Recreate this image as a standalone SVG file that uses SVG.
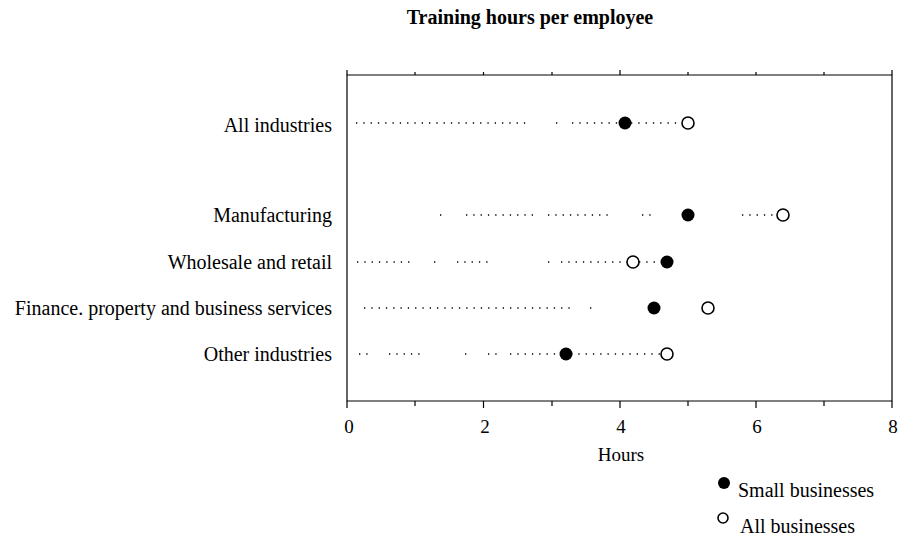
<svg xmlns="http://www.w3.org/2000/svg" width="901" height="544" viewBox="0 0 901 544">
<style>
.t{font-family:"Liberation Serif","Times New Roman",serif;fill:#000}
.lab{font-size:20px;text-anchor:end}
.num{font-size:19px;text-anchor:middle}
.dot{stroke:#000;stroke-width:1.3;stroke-dasharray:1.3 6;fill:none}
.ax{stroke:#000;stroke-width:1.2;fill:none}
.f{fill:#000}
.o{fill:#fff;stroke:#000;stroke-width:1.6}
</style>
<rect width="901" height="544" fill="#fff"/>
<text class="t" x="530" y="24" font-size="20" font-weight="bold" text-anchor="middle">Training hours per employee</text>
<g id="axes">
<path class="ax" d="M347 75H892V401H347Z"/>
<path class="ax" d="M347 70V75M415 72V75M483.5 72V75M552 72V75M620 70V75M688 72V75M756 72V75M824 72V75M892 70V75"/>
<path class="ax" d="M347 401V408M415 401V406M483.5 401V408M552 401V406M620 401V408M688 401V406M756 401V408M824 401V406M892 401V408"/>
<text class="t num" x="349" y="433">0</text>
<text class="t num" x="485" y="433">2</text>
<text class="t num" x="621" y="433">4</text>
<text class="t num" x="757" y="433">6</text>
<text class="t num" x="893" y="433">8</text>
<text class="t num" x="621" y="461" font-size="19">Hours</text>
</g>
<g id="connectors">
<path class="dot" d="M356 123H527M556 123H560M572 123H620M631 123H683"/>
<path class="dot" d="M440 215H443M466 215H535M548 215H610M642 215H652M742 215H777"/>
<path class="dot" d="M357 262H412M434 262H440M457 262H490M548 262H552M561 262H627M639 262H662"/>
<path class="dot" d="M364 308H575M590 308H594"/>
<path class="dot" d="M359 354H371M389 354H420M465 354H468M488 354H500M510 354H560M571 354H662"/>
</g>
<g id="row-all-industries">
<text class="t lab" x="332" y="132">All industries</text>
<circle class="f" cx="625" cy="123" r="6.5"/>
<circle class="o" cx="688" cy="123" r="6"/>
</g>
<g id="row-manufacturing">
<text class="t lab" x="332" y="222">Manufacturing</text>
<circle class="f" cx="688" cy="215" r="6.5"/>
<circle class="o" cx="783" cy="215" r="6"/>
</g>
<g id="row-wholesale">
<text class="t lab" x="332" y="269">Wholesale and retail</text>
<circle class="o" cx="633" cy="262" r="6"/>
<circle class="f" cx="667" cy="262" r="6.5"/>
</g>
<g id="row-finance">
<text class="t lab" x="332" y="315">Finance. property and business services</text>
<circle class="f" cx="654" cy="308" r="6.5"/>
<circle class="o" cx="708" cy="308" r="6"/>
</g>
<g id="row-other">
<text class="t lab" x="332" y="361">Other industries</text>
<circle class="f" cx="566" cy="354" r="6.5"/>
<circle class="o" cx="667" cy="354" r="6"/>
</g>
<g id="legend">
<circle class="f" cx="724" cy="483" r="6"/>
<text class="t" x="738" y="497" font-size="20">Small businesses</text>
<circle class="o" cx="723" cy="518" r="5"/>
<text class="t" x="740" y="533" font-size="20">All businesses</text>
</g>
</svg>
